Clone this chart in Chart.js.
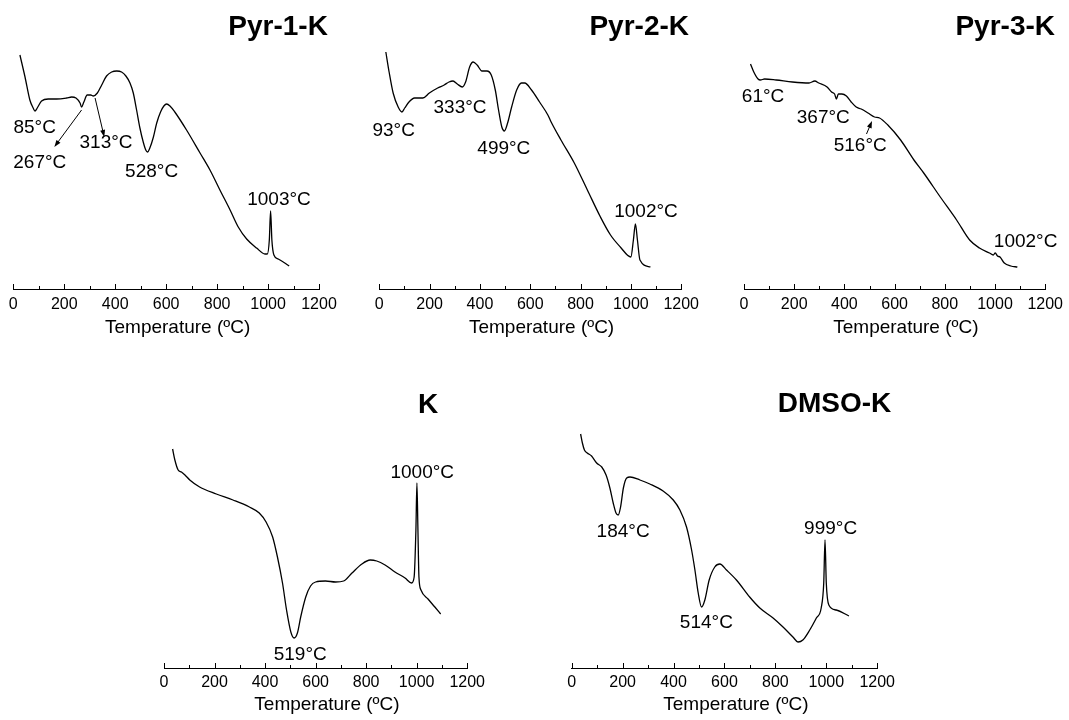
<!DOCTYPE html>
<html>
<head>
<meta charset="utf-8">
<title>DTA curves</title>
<script src="https://cdn.jsdelivr.net/npm/chart.js@4.4.1/dist/chart.umd.min.js"></script>
<style>
  body { margin: 0; background: #fff; }
  #wrap { position: relative; width: 1069px; height: 720px; overflow: hidden; }
  canvas { position: absolute; }
</style>
</head>
<body>
<div id="wrap">
  <canvas id="pyr1" width="345" height="350" style="left:0px;top:0px"></canvas>
  <canvas id="pyr2" width="355" height="350" style="left:350px;top:0px"></canvas>
  <canvas id="pyr3" width="359" height="350" style="left:710px;top:0px"></canvas>
  <canvas id="kaol" width="350" height="360" style="left:140px;top:360px"></canvas>
  <canvas id="dmso" width="350" height="360" style="left:550px;top:360px"></canvas>
</div>
<script>
// temperature (°C) and DTA signal (a.u.)
const pyr1Temp = [26, 46, 65, 78, 85, 94, 111, 137, 170, 209, 229, 246, 262, 268, 277, 290, 304, 314, 330, 347,
  366, 386, 406, 425, 442, 458, 471, 484, 497, 510, 520, 527, 536, 550, 563, 578, 591, 602, 615, 634,
  680, 733, 772, 811, 851, 883, 916, 955, 988, 997, 1005, 1010, 1015, 1023, 1040, 1083];
const pyr1Signal = [234, 212, 189, 181, 178, 181, 188, 190, 190, 191, 192, 191, 186, 182, 187, 194, 194, 193, 196, 204,
  213, 217, 218, 217, 213, 206, 196, 179, 161, 147, 139, 137, 141, 152, 166, 177, 183, 185, 183, 177,
  159, 136, 119, 99, 79, 62, 50, 41, 35, 35, 49, 78, 49, 34, 30, 23];

const pyr2Temp = [26, 39, 55, 75, 90, 101, 118, 140, 173, 199, 232, 258, 277, 293, 310, 330, 343, 359, 373, 389,
  408, 428, 445, 461, 474, 487, 497, 510, 526, 546, 565, 578, 605, 637, 670, 683, 722, 775, 827, 879,
  919, 958, 1000, 1010, 1018, 1026, 1036, 1078];
const pyr2Signal = [237, 217, 196, 182, 177, 181, 187, 191, 191, 196, 201, 204, 207, 208, 205, 202, 207, 222, 227, 224,
  218, 218, 214, 199, 179, 162, 158, 166, 182, 199, 206, 206, 199, 187, 174, 167, 149, 126, 99, 72,
  54, 42, 32, 49, 65, 49, 29, 22];

const pyr3Temp = [26, 39, 56, 65, 82, 128, 193, 259, 282, 298, 331, 349, 361, 368, 376, 390, 408, 427, 447, 467,
  494, 520, 540, 573, 624, 677, 716, 782, 847, 899, 938, 978, 993, 1001, 1010, 1020, 1037, 1063, 1089];
const pyr3Signal = [225, 217, 210, 209, 210, 209, 207, 206, 208, 206, 202, 197, 195, 190, 195, 195, 193, 187, 182, 180,
  176, 172, 171, 164, 149, 129, 116, 92, 69, 49, 41, 36, 34, 36, 33, 32, 26, 23, 22];

const kTemp = [34, 43, 56, 69, 83, 102, 141, 207, 273, 338, 377, 404, 430, 449, 469, 485, 502, 515, 528, 541,
  561, 580, 600, 639, 679, 711, 744, 783, 816, 842, 875, 914, 954, 980, 990, 997, 1001, 1005, 1009, 1017,
  1045, 1072, 1095];
const kSignal = [219, 208, 198, 196, 193, 188, 181, 174, 168, 161, 155, 146, 131, 111, 85, 58, 36, 30, 35, 51,
  71, 82, 86, 87, 86, 87, 95, 104, 108, 107, 103, 96, 90, 85, 91, 138, 185, 138, 91, 78,
  69, 61, 54];

const dmsoTemp = [35, 42, 50, 61, 78, 98, 118, 135, 150, 163, 174, 183, 192, 203, 216, 229, 268, 307, 359, 399,
  425, 451, 471, 484, 497, 510, 523, 540, 562, 582, 608, 647, 699, 739, 791, 830, 869, 889, 908, 935,
  961, 980, 990, 995, 1000, 1010, 1039, 1089];
const dmsoSignal = [234, 225, 218, 215, 212, 205, 201, 193, 180, 165, 155, 153, 161, 180, 190, 191, 188, 184, 177, 168,
  158, 141, 118, 98, 75, 61, 68, 88, 101, 104, 98, 88, 71, 60, 50, 41, 31, 26, 28, 38,
  50, 60, 85, 128, 85, 63, 58, 52];

const xTicks = [0, 200, 400, 600, 800, 1000, 1200];
const xTitle = 'Temperature (ºC)';

const FONT = '"Liberation Sans", Arial, sans-serif';

// labels, arrows, axis title and panel title, drawn through the chart scales
const labelsPlugin = {
  id: 'dtaLabels',
  afterDraw(chart, args, opts) {
    const ctx = chart.ctx;
    const xs = chart.scales.x, ys = chart.scales.y;
    const base = chart.chartArea.bottom;
    ctx.save();
    ctx.strokeStyle = '#000';
    ctx.fillStyle = '#000';
    ctx.lineWidth = 1;
    // major + minor ticks pointing up
    for (let t = 0; t <= 1200; t += 100) {
      const px = Math.round(xs.getPixelForValue(t)) + 0.5;
      const len = t % 200 === 0 ? 5 : 3;
      ctx.beginPath();
      ctx.moveTo(px, base + 1);
      ctx.lineTo(px, base - len);
      ctx.stroke();
    }
    // axis title, sits a bit right of the axis centre in the original
    ctx.font = '19px ' + FONT;
    ctx.textAlign = 'center';
    ctx.textBaseline = 'middle';
    ctx.fillText(xTitle, xs.getPixelForValue(645), base + opts.titleDy);

    ctx.font = 'bold 28px ' + FONT;
    ctx.textAlign = 'right';
    ctx.textBaseline = 'alphabetic';
    ctx.fillText(opts.name, xs.getPixelForValue(opts.nameT), opts.nameY);

    ctx.font = '19px ' + FONT;
    ctx.textAlign = 'center';
    opts.peaks.forEach(p => {
      ctx.fillText(p.text, xs.getPixelForValue(p.t), ys.getPixelForValue(p.v));
    });

    opts.arrows.forEach(a => {
      const x1 = xs.getPixelForValue(a[0]), y1 = ys.getPixelForValue(a[1]);
      const x2 = xs.getPixelForValue(a[2]), y2 = ys.getPixelForValue(a[3]);
      const ang = Math.atan2(y2 - y1, x2 - x1);
      ctx.beginPath();
      ctx.moveTo(x1, y1);
      ctx.lineTo(x2 - 4 * Math.cos(ang), y2 - 4 * Math.sin(ang));
      ctx.stroke();
      ctx.beginPath();
      ctx.moveTo(x2, y2);
      ctx.lineTo(x2 - 7 * Math.cos(ang) + 2.5 * Math.sin(ang), y2 - 7 * Math.sin(ang) - 2.5 * Math.cos(ang));
      ctx.lineTo(x2 - 7 * Math.cos(ang) - 2.5 * Math.sin(ang), y2 - 7 * Math.sin(ang) + 2.5 * Math.cos(ang));
      ctx.closePath();
      ctx.fill();
    });
    ctx.restore();
  }
};

function drawPanel(id, temps, signal, cfg) {
  const points = temps.map((t, i) => ({ x: t, y: signal[i] }));
  new Chart(document.getElementById(id), {
    type: 'line',
    data: {
      datasets: [{
        data: points,
        borderColor: '#000',
        borderWidth: 1.3,
        pointRadius: 0,
        cubicInterpolationMode: 'monotone',
        fill: false
      }]
    },
    options: {
      responsive: false,
      animation: false,
      devicePixelRatio: 1,
      layout: { padding: cfg.padding },
      plugins: {
        legend: { display: false },
        tooltip: { enabled: false },
        dtaLabels: cfg.labels
      },
      scales: {
        x: {
          type: 'linear',
          min: 0,
          max: 1200,
          afterBuildTicks: scale => { scale.ticks = xTicks.map(v => ({ value: v })); },
          afterFit: scale => { scale.height = cfg.axisHeight; },
          grid: { display: false, drawTicks: false },
          border: { display: true, color: '#000', width: 1 },
          ticks: {
            color: '#000',
            padding: cfg.tickPad,
            maxRotation: 0,
            autoSkip: false,
            font: { family: FONT, size: 16 },
            callback: value => String(value)
          },
          title: { display: false }
        },
        y: { display: false, min: 0, max: cfg.yMax }
      }
    },
    plugins: [labelsPlugin]
  });
}

drawPanel('pyr1', pyr1Temp, pyr1Signal, {
  padding: { left: 13.3, right: 26, top: 40, bottom: 0 },
  axisHeight: 61, yMax: 249, tickPad: 6,
  labels: {
    name: 'Pyr-1-K', nameT: 1235, nameY: 35, titleDy: 39,
    peaks: [
      { text: '85°C', t: 84, v: 156 },
      { text: '267°C', t: 104, v: 121 },
      { text: '313°C', t: 364, v: 141 },
      { text: '528°C', t: 543, v: 112 },
      { text: '1003°C', t: 1043, v: 84 }
    ],
    arrows: [[268, 179, 161, 142], [321, 191, 357, 152]]
  }
});

drawPanel('pyr2', pyr2Temp, pyr2Signal, {
  padding: { left: 29.3, right: 20, top: 40, bottom: 0 },
  axisHeight: 61, yMax: 249, tickPad: 6,
  labels: {
    name: 'Pyr-2-K', nameT: 1231, nameY: 35, titleDy: 39,
    peaks: [
      { text: '93°C', t: 57, v: 153 },
      { text: '333°C', t: 321, v: 176 },
      { text: '499°C', t: 495, v: 135 },
      { text: '1002°C', t: 1060, v: 72 }
    ],
    arrows: []
  }
});

drawPanel('pyr3', pyr3Temp, pyr3Signal, {
  padding: { left: 34, right: 19, top: 40, bottom: 0 },
  axisHeight: 61, yMax: 249, tickPad: 6,
  labels: {
    name: 'Pyr-3-K', nameT: 1239, nameY: 35, titleDy: 39,
    peaks: [
      { text: '61°C', t: 76, v: 187 },
      { text: '367°C', t: 316, v: 166 },
      { text: '516°C', t: 463, v: 138 },
      { text: '1002°C', t: 1122, v: 42 }
    ],
    arrows: [[488, 155, 510, 168]]
  }
});

drawPanel('kaol', kTemp, kSignal, {
  padding: { left: 24, right: 20.5, top: 40, bottom: 0 },
  axisHeight: 52, yMax: 268, tickPad: 5,
  labels: {
    name: 'K', nameT: 1085, nameY: 53, titleDy: 37,
    peaks: [
      { text: '1000°C', t: 1022, v: 190 },
      { text: '519°C', t: 539, v: 8 }
    ],
    arrows: []
  }
});

drawPanel('dmso', dmsoTemp, dmsoSignal, {
  padding: { left: 21.7, right: 22.3, top: 40, bottom: 0 },
  axisHeight: 52, yMax: 268, tickPad: 5,
  labels: {
    name: 'DMSO-K', nameT: 1255, nameY: 52, titleDy: 37,
    peaks: [
      { text: '184°C', t: 202, v: 131 },
      { text: '514°C', t: 529, v: 40 },
      { text: '999°C', t: 1017, v: 134 }
    ],
    arrows: []
  }
});
</script>
</body>
</html>
